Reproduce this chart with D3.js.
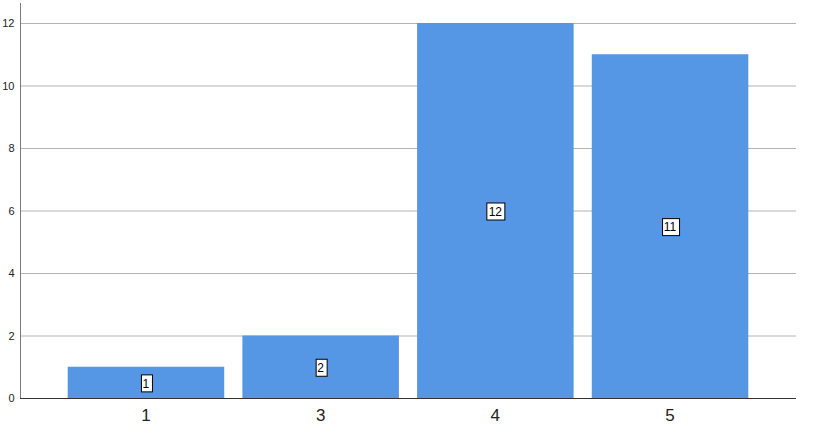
<!DOCTYPE html>
<html>
<head>
<meta charset="utf-8">
<script src="https://cdn.jsdelivr.net/npm/d3@7"></script>
<style>
  body { margin: 0; background: #fff; }
  svg { display: block; font-family: Arial, "Liberation Sans", sans-serif; }
</style>
</head>
<body>
<svg id="chart"></svg>
<script>
const categories = ["1", "3", "4", "5"];
const counts = [1, 2, 12, 11];
const yTicks = [0, 2, 4, 6, 8, 10, 12];

const width = 827, height = 435;
const left = 20, right = 796, bottom = 398, top12 = 23;

const svg = d3.select("#chart")
  .attr("width", width)
  .attr("height", height);

const x = d3.scaleBand()
  .domain(categories)
  .range([left, right])
  .paddingInner(0.104)
  .paddingOuter(0.273);

const y = d3.scaleLinear()
  .domain([0, 12])
  .range([bottom, top12]);

// gridlines
svg.append("g")
  .selectAll("line")
  .data(yTicks.filter(d => d > 0))
  .enter()
  .append("line")
  .attr("x1", left)
  .attr("x2", right)
  .attr("y1", d => y(d) + 0.5)
  .attr("y2", d => y(d) + 0.5)
  .attr("stroke", "#b4b4b4")
  .attr("stroke-width", 1);

// bars
const data = categories.map((c, i) => ({ cat: c, value: counts[i] }));

svg.append("g")
  .selectAll("rect")
  .data(data)
  .enter()
  .append("rect")
  .attr("x", d => x(d.cat))
  .attr("y", d => y(d.value))
  .attr("width", x.bandwidth())
  .attr("height", d => y(0) - y(d.value))
  .attr("fill", "#5596e5");

// value labels
const labels = svg.append("g")
  .selectAll("g")
  .data(data)
  .enter()
  .append("g")
  .attr("transform", d => `translate(${x(d.cat) + x.bandwidth() / 2}, ${(y(0) + y(d.value)) / 2 + 1})`);

labels.append("text")
  .attr("text-anchor", "middle")
  .attr("dy", "0.36em")
  .style("font-size", "12px")
  .style("fill", "#000")
  .text(d => d.value)
  .each(function () {
    const b = this.getBBox();
    d3.select(this.parentNode)
      .insert("rect", "text")
      .attr("x", Math.round(b.x - 2) + 0.5)
      .attr("y", -8.5)
      .attr("width", Math.round(b.width + 4))
      .attr("height", 17)
      .attr("fill", "#fff")
      .attr("stroke", "#000")
      .attr("stroke-width", 1);
  });

// y axis
const yAxis = svg.append("g")
  .attr("transform", `translate(${left + 0.5},0)`)
  .call(d3.axisLeft(y).tickValues(yTicks).tickSize(0).tickPadding(6));
yAxis.select(".domain").remove();
yAxis.selectAll("text").style("font-size", "11px").style("fill", "#222")
  .style("font-family", "Arial, 'Liberation Sans', sans-serif");

svg.append("line")
  .attr("x1", left + 0.5).attr("x2", left + 0.5)
  .attr("y1", 3).attr("y2", bottom)
  .attr("stroke", "#7a7a7a");

// x axis
const xAxis = svg.append("g")
  .attr("transform", `translate(0,${bottom + 0.5})`)
  .call(d3.axisBottom(x).tickSize(0).tickPadding(10));
xAxis.select(".domain").remove();
xAxis.selectAll("text").style("font-size", "17px").style("fill", "#222")
  .style("font-family", "Arial, 'Liberation Sans', sans-serif");

svg.append("line")
  .attr("x1", left).attr("x2", right)
  .attr("y1", bottom + 0.5).attr("y2", bottom + 0.5)
  .attr("stroke", "#333");
</script>
</body>
</html>
